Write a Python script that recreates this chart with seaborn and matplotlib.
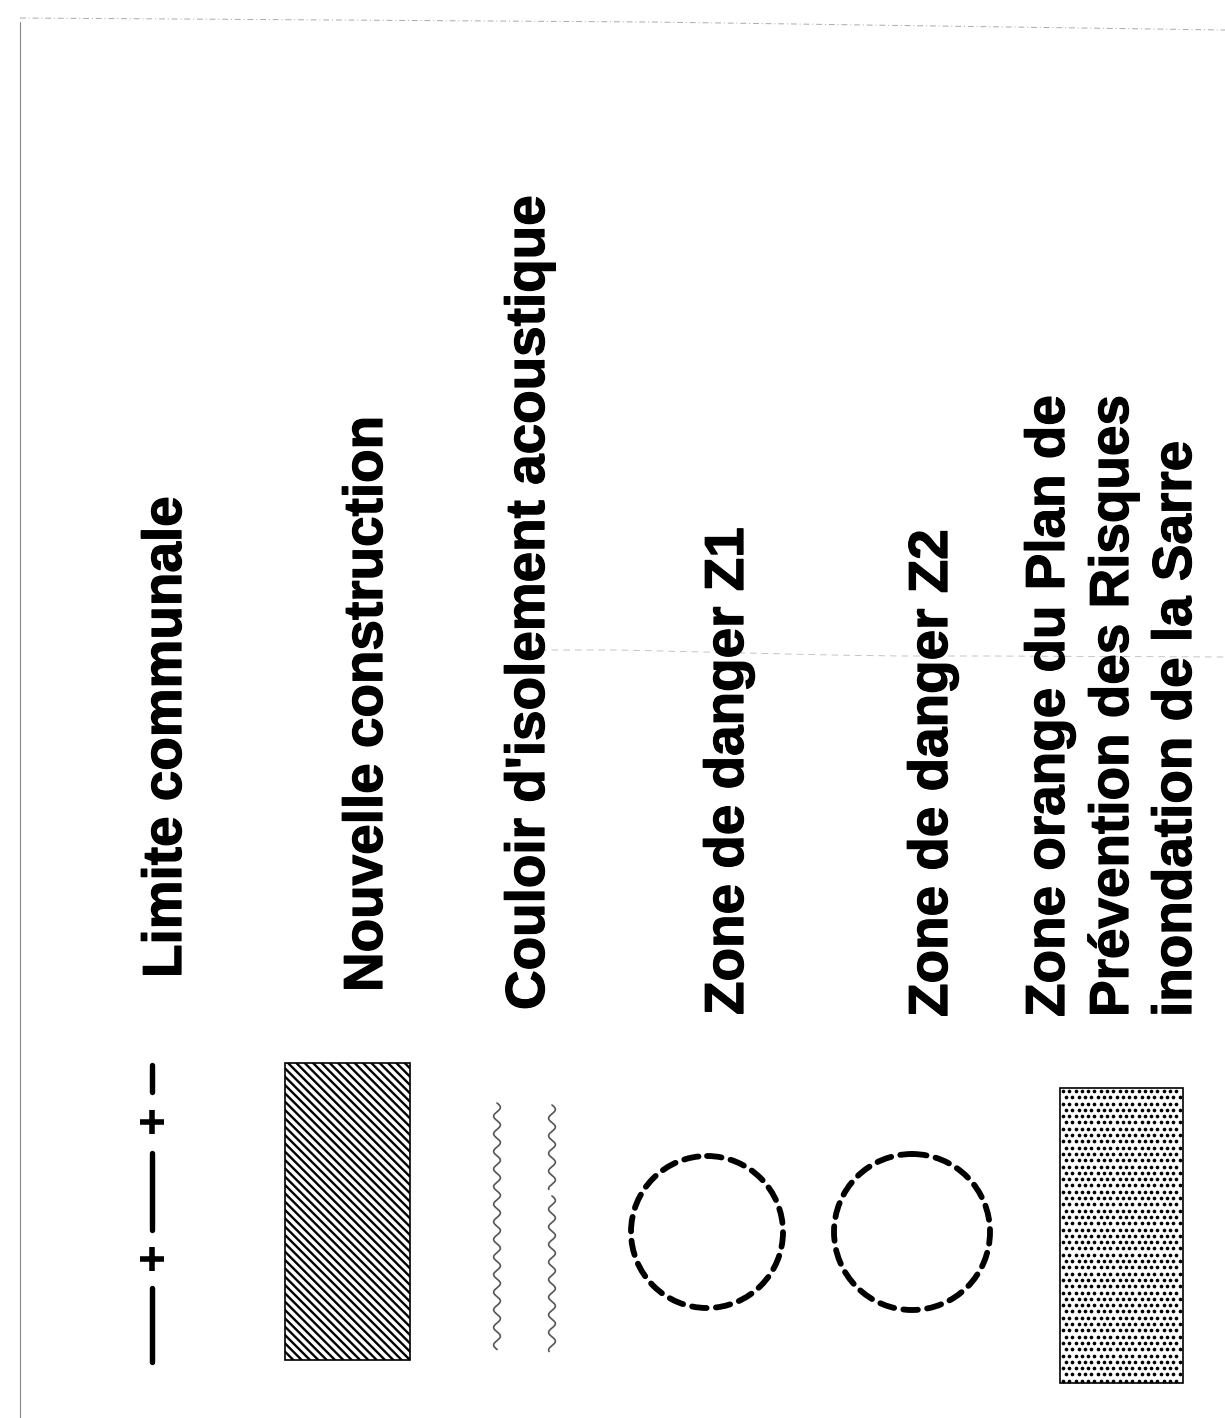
import numpy as np
import pandas as pd
import matplotlib
matplotlib.use("Agg")
import matplotlib.pyplot as plt
import matplotlib.patheffects as pe
from matplotlib.patches import Rectangle, Circle
import seaborn as sns

sns.set_theme(style="white")
plt.rcParams['font.family'] = ['Liberation Sans', 'DejaVu Sans']
plt.rcParams['hatch.linewidth'] = 1.7

# ---- legend content ----
labels = [
    ["Limite communale"],
    ["Nouvelle construction"],
    ["Couloir d'isolement acoustique"],
    ["Zone de danger Z1"],
    ["Zone de danger Z2"],
    ["Zone orange du Plan de", "Prévention des Risques", "inondation de la Sarre"],
]

# ---- layout (pixel coordinates of the page) ----
text_baselines = [[181], [382], [544], [743], [947], [1064, 1128, 1191]]
text_starts = [978, 992, 1010, 1015, 1017, 1017]
W, H = 1225, 1418

fig = plt.figure(figsize=(W / 100, H / 100), dpi=100)
ax = fig.add_axes([0, 0, 1, 1])
ax.set_xlim(0, W)
ax.set_ylim(H, 0)
ax.axis("off")

for lines, xs, y0 in zip(labels, text_baselines, text_starts):
    for s, x in zip(lines, xs):
        ax.text(x, y0, s, rotation=90, rotation_mode="anchor",
                ha="left", va="baseline", fontsize=39.5, fontweight="bold",
                color="black",
                path_effects=[pe.withStroke(linewidth=0.9, foreground="black")])

# Limite communale: dash + line + line
lim_x = 152
lim_segments = [(1065, 1092), (1153, 1230), (1288, 1362)]
lim_plus = [1122, 1259]
for y0, y1 in lim_segments:
    ax.plot([lim_x, lim_x], [y0, y1], color="black", lw=3.9,
            solid_capstyle="round")
ax.plot([lim_x] * len(lim_plus), lim_plus, linestyle="none", marker="+",
        markersize=17, markeredgewidth=4.0, color="black")

# Nouvelle construction: hatched rectangle
ax.add_patch(Rectangle((285, 1063), 125, 297, facecolor="white",
                       edgecolor="black", hatch="\\\\\\\\", lw=1.2))

# Couloir d'isolement acoustique: two wavy lines
wave_specs = [(497, 1103, 1350), (552, 1105, 1190), (552, 1196, 1352)]
for x0, y0, y1 in wave_specs:
    yy = np.arange(y0, y1, 0.5)
    df = pd.DataFrame({"x": x0 + 3.4 * np.sin(2 * np.pi * (yy - y0) / 17.6),
                       "y": yy})
    sns.lineplot(data=df, x="x", y="y", sort=False, estimator=None,
                 color="#555555", lw=1.2, ax=ax)

# Zones de danger: dashed circles
for (cx, cy, r) in [(707, 1232, 76), (912, 1232, 78)]:
    c = Circle((cx, cy), r, fill=False, edgecolor="black", lw=4.2,
               linestyle=(0, (2.5, 1.6)))
    c.set_capstyle("round")
    ax.add_patch(c)

# Zone orange: dotted rectangle
rx0, ry0, rw, rh = 1060, 1088, 123, 295
ax.add_patch(Rectangle((rx0, ry0), rw, rh, facecolor="white",
                       edgecolor="black", lw=1.2))
step = 6.3
pts = []
for j, yy in enumerate(np.arange(ry0 + 3, ry0 + rh - 1, step)):
    off = 0 if j % 2 == 0 else step / 2
    for xx in np.arange(rx0 + 3 + off, rx0 + rw - 1, step):
        pts.append((xx, yy))
pts = np.array(pts)
sns.scatterplot(x=pts[:, 0], y=pts[:, 1], s=7, color="black",
                linewidth=0, marker="o", ax=ax, legend=False)

# page edges (scan)
ax.plot([20, 20], [22, H], color="#888888", lw=0.8)
ax.plot([20, 650, 1225], [18, 22, 30], color="#aaaaaa", lw=0.7,
        linestyle=(0, (6, 3, 1, 3)))
ax.plot([540, 620, 830, 900, 990, 1225], [650, 650, 655, 656, 656, 657],
        color="#bbbbbb", lw=0.6, linestyle=(0, (8, 6)))

fig.savefig("out.png", dpi=100, facecolor="white")
